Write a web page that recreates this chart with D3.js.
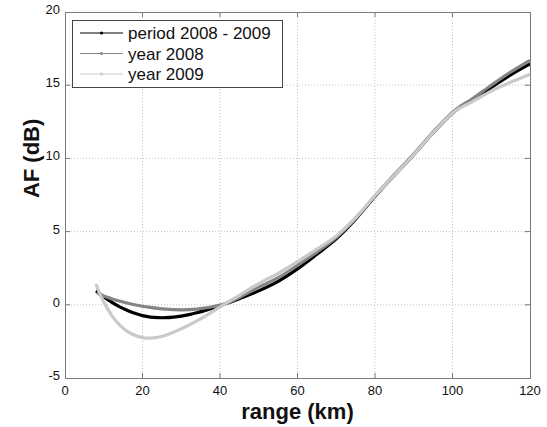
<!DOCTYPE html>
<html>
<head>
    <meta charset="utf-8">
    <script src="https://d3js.org/d3.v7.min.js"></script>
    <style>
        body { margin: 0; background: #fff; }
        svg { font-family: "Liberation Sans", Arial, sans-serif; }
        .grid line { stroke: #c4c4c4; stroke-width: 1px; stroke-dasharray: 1,2; }
        .tick-label { font-size: 13px; fill: #111; }
        .axis-title { font-size: 22px; font-weight: bold; fill: #111; }
        .legend-text { font-size: 17px; fill: #111; }
    </style>
</head>
<body>
    <svg id="chart" width="547" height="427"></svg>

    <script>
        // range (km) sample points for each series, AF in dB
        const periodRange = [8, 10, 12, 14, 16, 18, 20, 22, 24, 26, 28, 30, 32, 34, 36, 38, 40, 42, 45, 50, 55, 60, 65, 70, 75, 80, 85, 90, 95, 100, 102, 105, 110, 115, 120];
        const periodAF    = [0.96, 0.55, 0.18, -0.12, -0.37, -0.58, -0.74, -0.84, -0.88, -0.88, -0.84, -0.77, -0.67, -0.54, -0.4, -0.24, -0.06, 0.12, 0.42, 0.95, 1.6, 2.45, 3.45, 4.5, 5.85, 7.4, 8.85, 10.25, 11.75, 13.1, 13.5, 13.95, 14.85, 15.7, 16.45];

        const y2008Range = [8.3, 10, 12, 14, 16, 18, 20, 22, 24, 26, 28, 30, 32, 34, 36, 38, 40, 42, 45, 50, 55, 60, 65, 70, 75, 80, 85, 90, 95, 100, 102, 105, 110, 115, 120];
        const y2008AF    = [0.8, 0.6, 0.42, 0.26, 0.12, 0.0, -0.1, -0.18, -0.25, -0.3, -0.33, -0.34, -0.33, -0.29, -0.22, -0.13, -0.02, 0.12, 0.5, 1.2, 1.85, 2.7, 3.6, 4.6, 5.9, 7.45, 8.9, 10.3, 11.8, 13.15, 13.55, 14.05, 15.0, 15.9, 16.7];

        const y2009Range = [8, 9, 10, 12, 14, 16, 18, 20, 22, 24, 26, 28, 30, 32, 34, 36, 38, 40, 42, 45, 50, 55, 60, 65, 70, 75, 80, 85, 90, 95, 100, 102, 105, 110, 115, 120];
        const y2009AF    = [1.42, 0.75, 0.2, -0.7, -1.35, -1.8, -2.08, -2.24, -2.28, -2.22, -2.08, -1.88, -1.64, -1.38, -1.1, -0.8, -0.48, -0.15, 0.18, 0.65, 1.45, 2.15, 2.95, 3.8, 4.7, 5.95, 7.45, 8.85, 10.25, 11.75, 13.1, 13.45, 13.85, 14.6, 15.2, 15.75];

        const seriesNames = ["period 2008 - 2009", "year 2008", "year 2009"];
        const seriesColors = ["#000000", "#858585", "#cacaca"];

        const xTicks = [0, 20, 40, 60, 80, 100, 120];
        const yTicks = [-5, 0, 5, 10, 15, 20];

        const series = [
            { name: seriesNames[0], color: seriesColors[0], pts: periodRange.map((r, i) => [r, periodAF[i]]) },
            { name: seriesNames[1], color: seriesColors[1], pts: y2008Range.map((r, i) => [r, y2008AF[i]]) },
            { name: seriesNames[2], color: seriesColors[2], pts: y2009Range.map((r, i) => [r, y2009AF[i]]) }
        ];

        const svg = d3.select("#chart");
        const margin = { top: 12, right: 17, bottom: 49, left: 65 };
        const width = 547 - margin.left - margin.right;

        const x = d3.scaleLinear().domain([0, 120]).range([margin.left, margin.left + width]);
        const y = d3.scaleLinear().domain([-5, 20]).range([378, margin.top]);

        // gridlines
        const grid = svg.append("g").attr("class", "grid");
        grid.selectAll("line.vx").data(xTicks.slice(1, -1)).join("line")
            .attr("x1", d => x(d)).attr("x2", d => x(d))
            .attr("y1", y(-5)).attr("y2", y(20));
        grid.selectAll("line.hy").data(yTicks.slice(1, -1)).join("line")
            .attr("x1", x(0)).attr("x2", x(120))
            .attr("y1", d => y(d)).attr("y2", d => y(d));

        // curves
        const line = d3.line()
            .x(d => x(d[0]))
            .y(d => y(d[1]))
            .curve(d3.curveCatmullRom.alpha(0.5));

        svg.append("g").selectAll("path").data(series).join("path")
            .attr("d", d => line(d.pts))
            .attr("fill", "none")
            .attr("stroke", d => d.color)
            .attr("stroke-width", 3.2);

        // axes box and inward ticks
        const boxColor = "#7a7a7a";
        svg.append("rect")
            .attr("x", x(0) + 0.5).attr("y", y(20) + 0.5)
            .attr("width", x(120) - x(0)).attr("height", y(-5) - y(20))
            .attr("fill", "none").attr("stroke", boxColor);

        const ticks = svg.append("g").attr("stroke", boxColor);
        xTicks.slice(1, -1).forEach(t => {
            ticks.append("line").attr("x1", x(t)).attr("x2", x(t)).attr("y1", y(-5)).attr("y2", y(-5) - 5);
            ticks.append("line").attr("x1", x(t)).attr("x2", x(t)).attr("y1", y(20)).attr("y2", y(20) + 5);
        });
        yTicks.slice(1, -1).forEach(t => {
            ticks.append("line").attr("x1", x(0)).attr("x2", x(0) + 5).attr("y1", y(t)).attr("y2", y(t));
            ticks.append("line").attr("x1", x(120)).attr("x2", x(120) - 5).attr("y1", y(t)).attr("y2", y(t));
        });

        // tick labels
        svg.append("g").selectAll("text").data(xTicks).join("text")
            .attr("class", "tick-label")
            .attr("x", d => x(d)).attr("y", 395)
            .attr("text-anchor", "middle")
            .text(d => d);
        svg.append("g").selectAll("text").data(yTicks).join("text")
            .attr("class", "tick-label")
            .attr("x", x(0) - 5).attr("y", d => y(d) + 2)
            .attr("text-anchor", "end")
            .text(d => d);

        // axis titles
        svg.append("text").attr("class", "axis-title")
            .attr("x", x(60)).attr("y", 418.5)
            .attr("text-anchor", "middle")
            .text("range (km)");
        svg.append("text").attr("class", "axis-title")
            .attr("transform", "translate(39," + y(10) + ") rotate(-90)")
            .attr("text-anchor", "middle")
            .text("AF (dB)");

        // legend
        const legend = svg.append("g");
        legend.append("rect")
            .attr("x", 72.5).attr("y", 20.5)
            .attr("width", 210).attr("height", 67)
            .attr("fill", "#fff").attr("stroke", "#444");

        const items = legend.selectAll("g.item").data(series).join("g")
            .attr("class", "item")
            .attr("transform", (d, i) => "translate(0," + [33, 53.5, 74][i] + ")");
        items.append("line")
            .attr("x1", 80).attr("x2", 123).attr("y1", 0).attr("y2", 0)
            .attr("stroke", d => d.color).attr("stroke-width", 1);
        items.append("circle")
            .attr("cx", 101.5).attr("cy", 0).attr("r", 1.6)
            .attr("fill", d => d.color);
        items.append("text")
            .attr("class", "legend-text")
            .attr("x", 128).attr("y", 6)
            .text(d => d.name);
    </script>
</body>
</html>
